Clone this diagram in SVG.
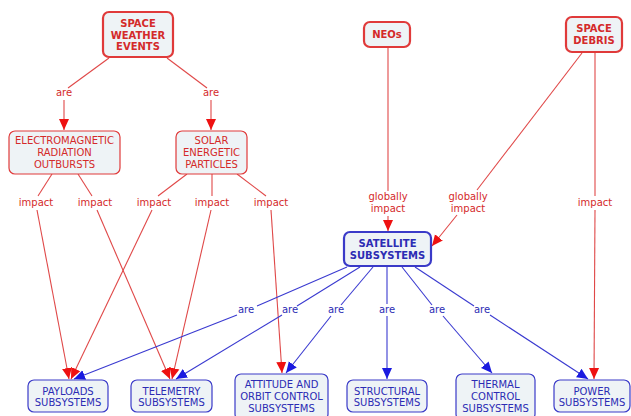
<svg xmlns="http://www.w3.org/2000/svg" width="631" height="416" viewBox="0 0 631 416">
  <style>
    .box { fill: #eef3f6; }
    .red { stroke: #e03a3a; }
    .blue { stroke: #3a3ac8; }
    .thin { stroke-width: 1.2; }
    .thick { stroke-width: 2.2; }
    text { font-family: "DejaVu Sans", Verdana, sans-serif; font-size: 10px; text-anchor: middle; }
    .rt { fill: #d42a2a; }
    .bt { fill: #2c2cb4; }
    .b { font-weight: bold; }
    .lr { stroke: #e04848; stroke-width: 1.1; fill: none; }
    .lb { stroke: #3a3ad0; stroke-width: 1.1; fill: none; }
  </style>
  <defs>
    <marker id="ar" markerUnits="userSpaceOnUse" markerWidth="12" markerHeight="12" viewBox="0 0 12 12" refX="11" refY="6" orient="auto">
      <path d="M0,1 L11,6 L0,11 Z" fill="#ee1111"/>
    </marker>
    <marker id="ab" markerUnits="userSpaceOnUse" markerWidth="12" markerHeight="12" viewBox="0 0 12 12" refX="11" refY="6" orient="auto">
      <path d="M0,1 L11,6 L0,11 Z" fill="#1a1ae0"/>
    </marker>
  </defs>

  <g id="connectors">
    <!-- space weather events -> are -->
    <line class="lr" x1="109" y1="58" x2="68" y2="88"/>
    <line class="lr" x1="64" y1="100" x2="64" y2="130" marker-end="url(#ar)"/>
    <line class="lr" x1="167" y1="58" x2="207" y2="88"/>
    <line class="lr" x1="211" y1="100" x2="211" y2="130" marker-end="url(#ar)"/>

    <!-- impacts from the two event kinds -->
    <line class="lr" x1="52" y1="174" x2="38" y2="196"/>
    <line class="lr" x1="78" y1="174" x2="92" y2="196"/>
    <line class="lr" x1="187" y1="174" x2="158" y2="196"/>
    <line class="lr" x1="212" y1="174" x2="212" y2="196"/>
    <line class="lr" x1="237" y1="174" x2="266" y2="196"/>

    <line class="lr" x1="37" y1="210" x2="69" y2="379" marker-end="url(#ar)"/>
    <line class="lr" x1="97" y1="210" x2="170" y2="379" marker-end="url(#ar)"/>
    <line class="lr" x1="152" y1="210" x2="71" y2="379" marker-end="url(#ar)"/>
    <line class="lr" x1="211" y1="210" x2="172" y2="379" marker-end="url(#ar)"/>
    <line class="lr" x1="271" y1="210" x2="282" y2="373" marker-end="url(#ar)"/>

    <!-- NEOs -> satellite subsystems -->
    <line class="lr" x1="388" y1="48" x2="388" y2="191"/>
    <line class="lr" x1="388" y1="216" x2="388" y2="231" marker-end="url(#ar)"/>

    <!-- space debris -> satellite subsystems / power -->
    <line class="lr" x1="582" y1="53" x2="477" y2="190"/>
    <line class="lr" x1="457" y1="215" x2="432" y2="246" marker-end="url(#ar)"/>
    <line class="lr" x1="595" y1="53" x2="595" y2="196"/>
    <line class="lr" x1="595" y1="210" x2="594" y2="379" marker-end="url(#ar)"/>

    <!-- satellite subsystems -> are -> kinds -->
    <line class="lb" x1="347" y1="267" x2="257" y2="306"/>
    <line class="lb" x1="237" y1="315" x2="74" y2="379" marker-end="url(#ab)"/>
    <line class="lb" x1="360" y1="267" x2="297" y2="306"/>
    <line class="lb" x1="282" y1="315" x2="176" y2="379" marker-end="url(#ab)"/>
    <line class="lb" x1="373" y1="267" x2="341" y2="305"/>
    <line class="lb" x1="331" y1="316" x2="286" y2="373" marker-end="url(#ab)"/>
    <line class="lb" x1="387" y1="267" x2="387" y2="304"/>
    <line class="lb" x1="387" y1="316" x2="387" y2="379" marker-end="url(#ab)"/>
    <line class="lb" x1="402" y1="267" x2="432" y2="305"/>
    <line class="lb" x1="443" y1="316" x2="492" y2="373" marker-end="url(#ab)"/>
    <line class="lb" x1="415" y1="267" x2="474" y2="306"/>
    <line class="lb" x1="490" y1="315" x2="588" y2="379" marker-end="url(#ab)"/>

    <!-- link labels -->
    <text class="rt" x="64" y="96">are</text>
    <text class="rt" x="211" y="96">are</text>
    <text class="rt" x="36" y="206">impact</text>
    <text class="rt" x="95" y="206">impact</text>
    <text class="rt" x="154" y="206">impact</text>
    <text class="rt" x="212" y="206">impact</text>
    <text class="rt" x="271" y="206">impact</text>
    <text class="rt" x="388" y="200">globally</text>
    <text class="rt" x="388" y="212">impact</text>
    <text class="rt" x="468" y="200">globally</text>
    <text class="rt" x="468" y="212">impact</text>
    <text class="rt" x="595" y="206">impact</text>
    <text class="bt" x="246" y="313">are</text>
    <text class="bt" x="290" y="313">are</text>
    <text class="bt" x="336" y="313">are</text>
    <text class="bt" x="387" y="313">are</text>
    <text class="bt" x="437" y="313">are</text>
    <text class="bt" x="482" y="313">are</text>
  </g>

  <g id="space-weather-events">
    <rect class="box red thick" x="103" y="12" width="70" height="45" rx="6"/>
    <text class="rt b" x="138" y="27">SPACE</text>
    <text class="rt b" x="138" y="38.5">WEATHER</text>
    <text class="rt b" x="138" y="50">EVENTS</text>
  </g>
  <g id="electromagnetic-radiation-outbursts">
    <rect class="box red thin" x="9" y="131" width="111" height="43" rx="6"/>
    <text class="rt" x="64.5" y="144">ELECTROMAGNETIC</text>
    <text class="rt" x="64.5" y="156">RADIATION</text>
    <text class="rt" x="64.5" y="168">OUTBURSTS</text>
  </g>
  <g id="solar-energetic-particles">
    <rect class="box red thin" x="176" y="131" width="71" height="43" rx="6"/>
    <text class="rt" x="211.5" y="144">SOLAR</text>
    <text class="rt" x="211.5" y="156">ENERGETIC</text>
    <text class="rt" x="211.5" y="168">PARTICLES</text>
  </g>
  <g id="neos">
    <rect class="box red thick" x="364" y="22" width="46" height="25" rx="6"/>
    <text class="rt b" x="387" y="38">NEOs</text>
  </g>
  <g id="space-debris">
    <rect class="box red thick" x="566" y="17" width="56" height="35" rx="6"/>
    <text class="rt b" x="594" y="32">SPACE</text>
    <text class="rt b" x="594" y="44">DEBRIS</text>
  </g>
  <g id="satellite-subsystems">
    <rect class="box blue thick" x="344" y="232" width="87" height="34" rx="6"/>
    <text class="bt b" x="387.5" y="247">SATELLITE</text>
    <text class="bt b" x="387.5" y="259">SUBSYSTEMS</text>
  </g>
  <g id="payloads-subsystems">
    <rect class="box blue thin" x="28" y="380" width="80" height="32" rx="6"/>
    <text class="bt" x="68" y="395">PAYLOADS</text>
    <text class="bt" x="68" y="406">SUBSYSTEMS</text>
  </g>
  <g id="telemetry-subsystems">
    <rect class="box blue thin" x="131" y="380" width="81" height="32" rx="6"/>
    <text class="bt" x="171.5" y="395">TELEMETRY</text>
    <text class="bt" x="171.5" y="406">SUBSYSTEMS</text>
  </g>
  <g id="attitude-orbit-control-subsystems">
    <rect class="box blue thin" x="235" y="374" width="93" height="46" rx="6"/>
    <text class="bt" x="281.5" y="388">ATTITUDE AND</text>
    <text class="bt" x="281.5" y="400">ORBIT CONTROL</text>
    <text class="bt" x="281.5" y="412">SUBSYSTEMS</text>
  </g>
  <g id="structural-subsystems">
    <rect class="box blue thin" x="347" y="380" width="80" height="32" rx="6"/>
    <text class="bt" x="387" y="395">STRUCTURAL</text>
    <text class="bt" x="387" y="406">SUBSYSTEMS</text>
  </g>
  <g id="thermal-control-subsystems">
    <rect class="box blue thin" x="456" y="374" width="79" height="46" rx="6"/>
    <text class="bt" x="495.5" y="388">THERMAL</text>
    <text class="bt" x="495.5" y="400">CONTROL</text>
    <text class="bt" x="495.5" y="412">SUBSYSTEMS</text>
  </g>
  <g id="power-subsystems">
    <rect class="box blue thin" x="554" y="380" width="76" height="32" rx="6"/>
    <text class="bt" x="592" y="395">POWER</text>
    <text class="bt" x="592" y="406">SUBSYSTEMS</text>
  </g>
</svg>
